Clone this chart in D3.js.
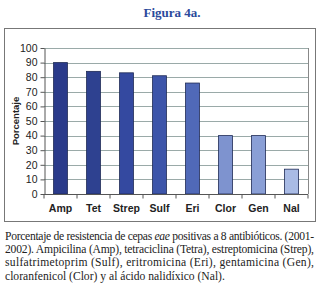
<!DOCTYPE html>
<html>
<head>
<meta charset="utf-8">
<script src="https://cdn.jsdelivr.net/npm/d3@7"></script>
<style>
  body { margin: 0; background: #fff; }
  svg { display: block; }
</style>
</head>
<body>
<script>
//data
var categories = ["Amp", "Tet", "Strep", "Sulf", "Eri", "Clor", "Gen", "Nal"];
var values = [90, 84, 83, 81, 76, 40, 40, 17];
var barColors = ["#2a3a8a", "#2e4190", "#3449a0", "#3d55aa", "#5069b8", "#7e93cf", "#8a9fd6", "#a9bbe5"];
var yTicks = [0, 10, 20, 30, 40, 50, 60, 70, 80, 90, 100];
var captionLines = [
    ["Porcentaje de resistencia de cepas ", {i: "eae"}, " positivas a  8 antibióticos. (2001-"],
    ["2002). Ampicilina (Amp), tetraciclina (Tetra), estreptomicina (Strep),"],
    ["sulfatrimetoprim (Sulf), eritromicina (Eri), gentamicina (Gen),"],
    ["cloranfenicol  (Clor) y al ácido nalidíxico (Nal)."]
];

var width = 332, height = 290;
var plotLeft = 44, plotRight = 308, plotTop = 48, plotBottom = 194;

var svg = d3.select("body").append("svg")
    .attr("width", width)
    .attr("height", height);

//title
svg.append("text")
    .attr("x", 172)
    .attr("y", 17)
    .attr("text-anchor", "middle")
    .style("font-family", "'Liberation Serif', serif")
    .style("font-weight", "bold")
    .style("font-size", "13px")
    .style("fill", "#2b4a9c")
    .text("Figura 4a.");

//outer frame
svg.append("rect")
    .attr("x", 4.5).attr("y", 28.5)
    .attr("width", 311).attr("height", 193)
    .style("fill", "none")
    .style("stroke", "#777")
    .style("stroke-width", 1);

var x = d3.scaleBand()
    .domain(categories)
    .range([plotLeft, plotRight])
    .paddingInner(0.58)
    .paddingOuter(0.29);

var y = d3.scaleLinear()
    .domain([0, 100])
    .range([plotBottom, plotTop]);

//gridlines
svg.append("g")
    .selectAll("line")
    .data(yTicks.slice(1))
    .enter()
    .append("line")
    .attr("x1", plotLeft).attr("x2", plotRight)
    .attr("y1", function(d){ return Math.round(y(d)) + 0.5; })
    .attr("y2", function(d){ return Math.round(y(d)) + 0.5; })
    .style("stroke", "#9aaaa8")
    .style("stroke-width", 1);

//right border of plot area
svg.append("line")
    .attr("x1", plotRight + 0.5).attr("x2", plotRight + 0.5)
    .attr("y1", plotTop).attr("y2", plotBottom)
    .style("stroke", "#888");

//bars
svg.append("g")
    .selectAll("rect")
    .data(values)
    .enter()
    .append("rect")
    .attr("x", function(d, i){ return x(categories[i]); })
    .attr("width", x.bandwidth())
    .attr("y", function(d){ return y(d); })
    .attr("height", function(d){ return plotBottom - y(d); })
    .style("fill", function(d, i){ return barColors[i]; })
    .style("stroke", "#1e2a55")
    .style("stroke-width", 0.8);

//y axis
var yAxis = svg.append("g")
    .attr("transform", "translate(" + (plotLeft + 0.5) + ",0)")
    .call(d3.axisLeft(y).tickValues(yTicks).tickSize(4).tickSizeOuter(0));
yAxis.selectAll("path, line").style("stroke", "#555");
yAxis.selectAll("text")
    .style("font-family", "'Liberation Sans', Arial, sans-serif")
    .style("font-size", "10.5px")
    .style("fill", "#222");

//x axis with ticks between categories
var xAxis = svg.append("g")
    .attr("transform", "translate(0," + (plotBottom + 0.5) + ")");
xAxis.append("line")
    .attr("x1", plotLeft).attr("x2", plotRight)
    .style("stroke", "#555");
xAxis.selectAll(".tk")
    .data(d3.range(categories.length + 1))
    .enter()
    .append("line")
    .attr("class", "tk")
    .attr("x1", function(i){ return plotLeft + i * x.step(); })
    .attr("x2", function(i){ return plotLeft + i * x.step(); })
    .attr("y1", 0).attr("y2", 4)
    .style("stroke", "#555");
xAxis.selectAll(".lbl")
    .data(categories)
    .enter()
    .append("text")
    .attr("class", "lbl")
    .attr("x", function(d){ return x(d) + x.bandwidth() / 2; })
    .attr("y", 17)
    .attr("text-anchor", "middle")
    .style("font-family", "'Liberation Sans', Arial, sans-serif")
    .style("font-weight", "bold")
    .style("font-size", "10.5px")
    .style("fill", "#222")
    .text(function(d){ return d; });

//y label
svg.append("text")
    .attr("transform", "translate(19,121) rotate(-90)")
    .attr("text-anchor", "middle")
    .style("font-family", "'Liberation Sans', Arial, sans-serif")
    .style("font-weight", "bold")
    .style("font-size", "9.5px")
    .style("fill", "#222")
    .text("Porcentaje");

//caption, justified lines
var caption = svg.append("g")
    .style("font-family", "'Liberation Serif', 'Times New Roman', serif")
    .style("font-size", "11.6px")
    .style("fill", "#222");

captionLines.forEach(function(parts, li){
    var t = caption.append("text")
        .attr("x", 5)
        .attr("y", 240 + li * 13.2);
    if (li < captionLines.length - 1) {
        t.attr("textLength", 309).attr("lengthAdjust", "spacing");
    }
    parts.forEach(function(p){
        if (typeof p === "string") {
            t.append("tspan").text(p);
        } else {
            t.append("tspan").style("font-style", "italic").text(p.i);
        }
    });
});
</script>
</body>
</html>
